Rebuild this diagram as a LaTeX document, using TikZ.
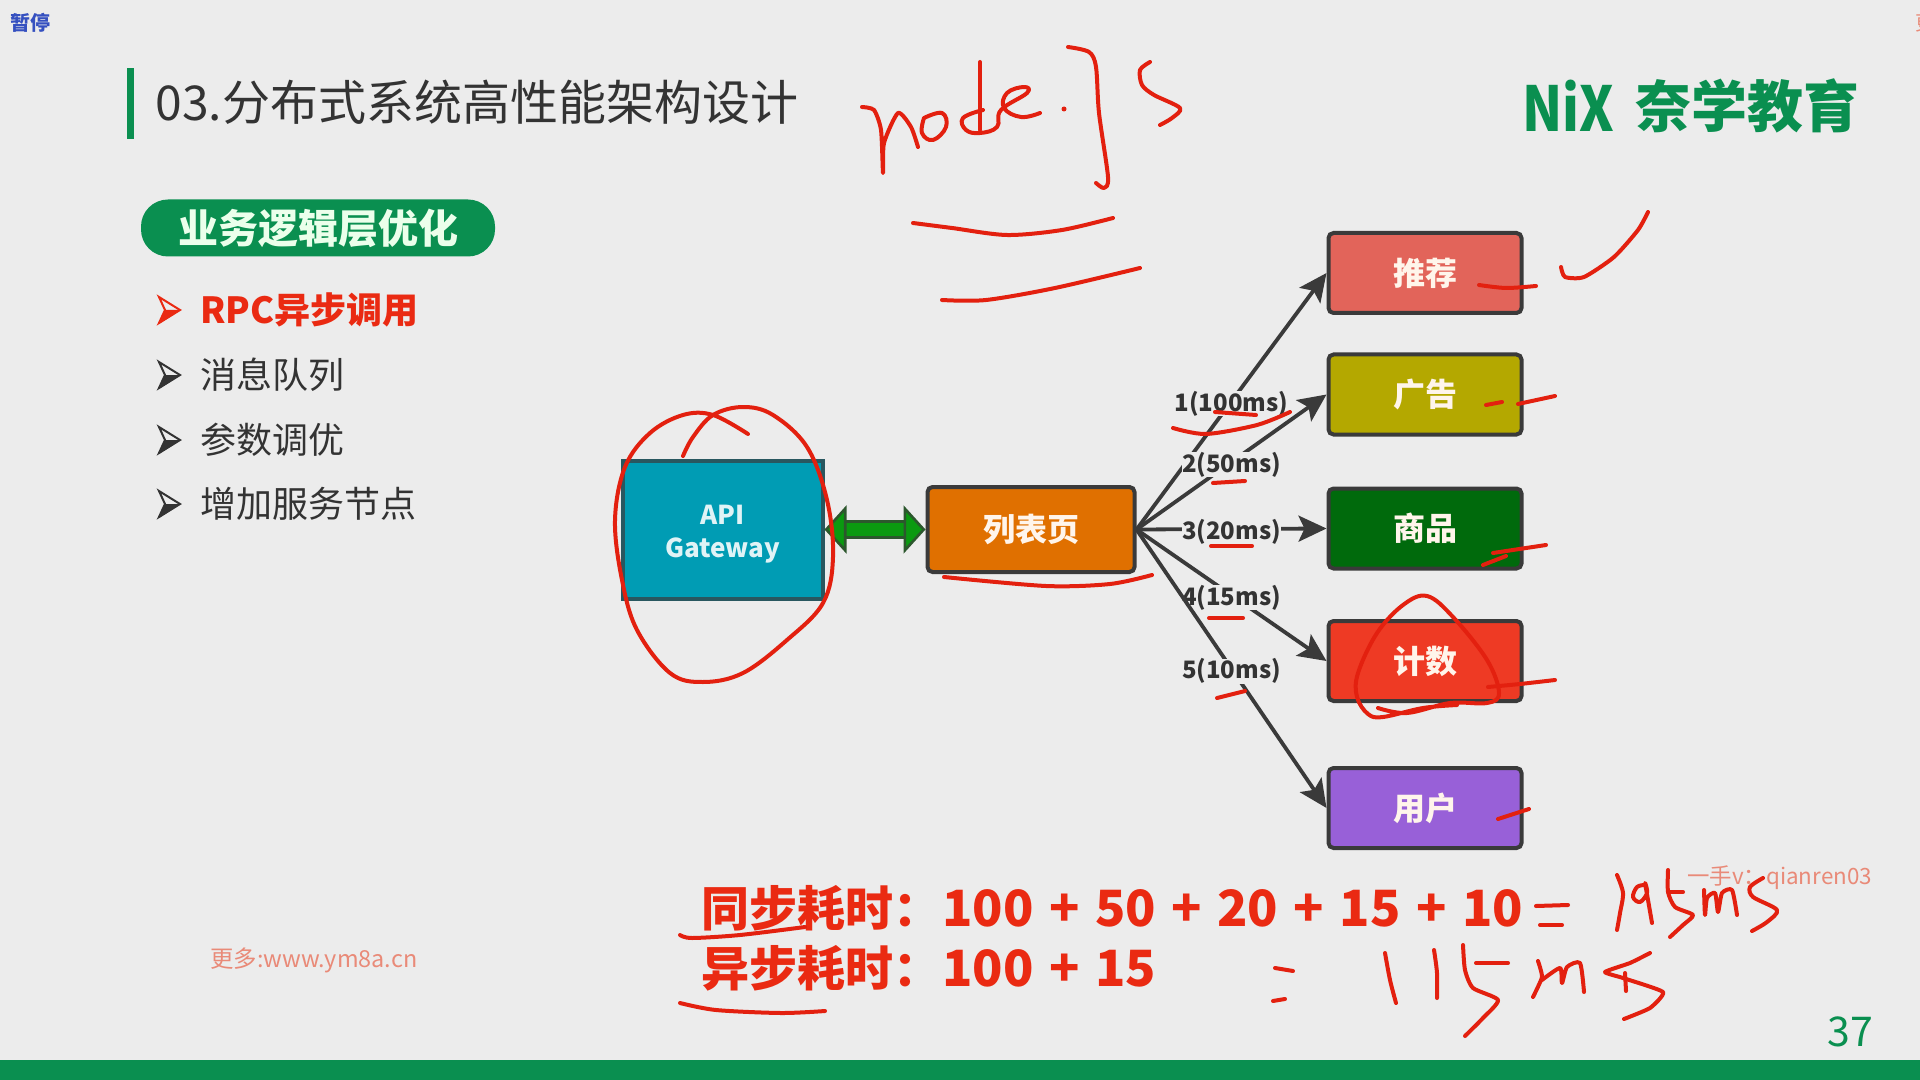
\documentclass[tikz,border=0pt]{standalone}
\usepackage{graphicx}
\usepackage{fontspec}
\usepackage{xcolor}
\setmainfont{Noto Sans CJK SC}
\usetikzlibrary{arrows.meta,calc,positioning}
\definecolor{paper}{HTML}{ECECEC}
\definecolor{ink}{HTML}{333333}
\definecolor{brand}{HTML}{0A8F50}
\definecolor{redpen}{HTML}{E3200F}
\definecolor{alert}{HTML}{EA2A12}
\definecolor{mark}{HTML}{E98A78}
\definecolor{edge}{HTML}{3A3A3A}
\definecolor{linkgreen}{HTML}{0A9A10}
\definecolor{pausefill}{HTML}{3550C0}
\definecolor{apifill}{HTML}{009CB4}
\definecolor{listfill}{HTML}{E07000}
\definecolor{recfill}{HTML}{E2645A}
\definecolor{adfill}{HTML}{B4A800}
\definecolor{goodsfill}{HTML}{006A0C}
\definecolor{countfill}{HTML}{EE3A24}
\definecolor{userfill}{HTML}{9860D8}
\newcommand{\fsz}[1]{\fontsize{#1}{#1}\selectfont}
\newcommand{\plusgap}{\hspace{.31em}+\hspace{.31em}}
\tikzset{
 svcbox/.style={draw=edge,line width=2pt,rounded corners=2.5pt,text=white!92!orange,font=\fsz{16}\bfseries,minimum width=96.5pt,minimum height=40pt},
 conn/.style={draw=edge,line width=1.9pt,-{Stealth[length=14pt,width=13pt,inset=3pt]}},
 midlabel/.style={fill=paper,text=ink,font=\fsz{12}\bfseries,inner sep=0pt,midway,yshift=-1.2pt},
 redink/.style={draw=redpen,line width=2pt,line cap=round,line join=round},
 bullet/.style={anchor=west,inner sep=0pt,font=\fsz{18}},
 sumtext/.style={anchor=west,inner sep=0pt,text=alert,font=\fsz{25}\bfseries}
}
\begin{document}
\begin{tikzpicture}[x=0.5pt,y=-0.5pt]
\useasboundingbox (0,0) rectangle (1920,1080);
\fill[paper] (0,0) rectangle (1920,1080);
\fill[brand] (0,1060) rectangle (1920,1080);
% slide head
\fill[brand] (127,68) rectangle (134,139);
\node[anchor=west,inner sep=0pt,text=ink,font=\fsz{24}] (title) at (155,102) {03.分布式系统高性能架构设计};
\node[anchor=west,inner sep=0pt,text=brand,font=\fsz{31}\bfseries] (logomark) at (1522,106) {\scalebox{.85}[1]{NiX}};
\node[anchor=west,inner sep=0pt,text=brand,font=\fsz{28}\bfseries] (logotext) at (1635,106) {奈学教育};
\node[anchor=west,inner sep=0pt,text=pausefill,font=\fsz{10}\bfseries] (pause) at (10,23) {暂停};
\node[anchor=west,inner sep=0pt,text=mark,font=\fsz{10}] (cutoff) at (1915,23) {更};
\node[fill=brand,rounded corners=13.5pt,text=white!92!green,font=\fsz{20}\bfseries,minimum width=177pt,minimum height=28.5pt,inner sep=0pt] (pill) at (318,228) {业务逻辑层优化};
% left list: arrowhead marks
\foreach \yy/\colr in {310/alert,375/ink,440/ink,504/ink} {
 \draw[\colr,line width=1pt,line join=miter] (159,\yy-13) -- (180,\yy) -- (159,\yy+13) -- (165,\yy) -- cycle;
 \fill[\colr] (159,\yy+14) -- (181,\yy) -- (165,\yy) -- cycle;
}
\node[bullet,text=alert] (itema) at (200,310) {\bfseries RPC异步调用};
\node[bullet,text=ink] (itemb) at (200,375) {消息队列};
\node[bullet,text=ink] (itemc) at (200,440) {参数调优};
\node[bullet,text=ink] (itemd) at (200,504) {增加服务节点};
% diagram
\node[draw=edge!70!apifill,line width=2pt,fill=apifill,text=white!88!apifill,align=center,font=\fontsize{13}{16.5}\selectfont\bfseries,minimum width=100pt,minimum height=69pt] (api) at (722.5,529.5) {\rule{0pt}{14pt}API\\Gateway};
\node[svcbox,fill=listfill,minimum width=103.5pt,minimum height=42.5pt] (listpage) at (1031,529.5) {列表页};
\draw[draw=edge!70!linkgreen,double=linkgreen,double distance=6.5pt,line width=1.3pt,{Triangle[length=11pt,width=24pt,fill=linkgreen]}-{Triangle[length=11pt,width=24pt,fill=linkgreen]}] (api.east) -- (listpage.west);
% rows: box on the right, edge from the list page, label half way
\foreach \yy/\name/\colr/\txt/\lbl in {
 273/recbox/recfill/推荐/1(100ms),
 394.5/adbox/adfill/广告/2(50ms),
 528.5/goodsbox/goodsfill/商品/3(20ms),
 661/countbox/countfill/计数/4(15ms),
 808/userbox/userfill/用户/5(10ms)} {
 \node[svcbox,fill=\colr] (\name) at (1425,\yy) {\txt};
 \draw[conn] (listpage.east) -- node[midlabel] {\lbl} (\name.west);
}
% totals
\node[anchor=west,inner sep=0pt,text=alert,font=\fsz{24}\bfseries] (synclabel) at (701,908) {同步耗时：};
\node[sumtext] (syncsum) at (942,908) {100\plusgap 50\plusgap 20\plusgap 15\plusgap 10};
\node[anchor=west,inner sep=0pt,text=alert,font=\fsz{24}\bfseries] (asynclabel) at (701,968) {异步耗时：};
\node[sumtext] (asyncsum) at (942,968) {100\plusgap 15};
\node[anchor=west,inner sep=0pt,text=mark,font=\fsz{11.2}] (wechat) at (1687,878) {一手v：qianren03};
\node[anchor=west,inner sep=0pt,text=mark,font=\fsz{11.7}] (site) at (210,960) {更多:www.ym8a.cn};
\node[inner sep=0pt,text=brand,font=\fsz{20.5}] (pageno) at (1850,1032) {37};
% handwriting: node.js and its two strokes
\draw[redink] plot[smooth,tension=.4] coordinates {(862,107) (874,110) (881,130) (883,173) (884,143) (898,113) (911,127) (918,147)};
\draw[redink] plot[smooth,tension=.7] coordinates {(924,118) (942,113) (946,127) (933,140) (922,133) (924,118)};
\draw[redink] plot[smooth,tension=.4] coordinates {(980,62) (980,130)};
\draw[redink] plot[smooth,tension=.7] coordinates {(983,110) (963,118) (966,130) (980,133) (997,127) (1001,110) (1027,93) (1024,87) (1007,93) (1004,108) (1021,117) (1040,113)};
\fill[redpen] (1064,109) circle (2.5);
\draw[redink] plot[smooth,tension=.5] coordinates {(1068,47) (1089,52) (1096,67) (1099,113) (1108,177) (1104,188) (1096,183)};
\draw[redink] plot[smooth,tension=.5] coordinates {(1150,62) (1140,70) (1142,85) (1154,95) (1180,108) (1172,118) (1160,125)};
\draw[redink] plot[smooth] coordinates {(913,223) (952,228) (1007,235) (1062,230) (1113,218)};
\draw[redink] plot[smooth] coordinates {(942,300) (986,300) (1055,288) (1140,268)};
\draw[redink] plot[smooth,tension=.4] coordinates {(1561,267) (1565,277) (1584,277) (1614,257) (1638,230) (1648,212)};
% circle on the gateway, triangle on the counter box
\draw[redink] plot[smooth,tension=.6] coordinates {(748,434) (713,415) (683,415) (650,433) (625,467) (615,520) (622,580) (637,630) (670,673) (703,682) (743,673) (787,640) (823,603) (833,557) (827,500) (807,447) (773,415) (743,407) (713,415) (693,437) (683,456)};
\draw[redink] plot[smooth,tension=.6] coordinates {(1378,708) (1407,713) (1450,703) (1487,703) (1499,693) (1487,660) (1453,617) (1427,596) (1403,605) (1377,633) (1358,673) (1357,697) (1368,714) (1383,717) (1423,708) (1457,705)};
% ticks next to boxes and labels
\draw[redink] plot[smooth] coordinates {(1488,687) (1520,684) (1555,680)};
\draw[redink] plot[smooth] coordinates {(1479,285) (1506,288) (1536,286)};
\draw[redink] plot[smooth] coordinates {(1486,405) (1502,402)};
\draw[redink] plot[smooth] coordinates {(1518,404) (1555,396)};
\draw[redink] plot[smooth] coordinates {(1483,565) (1506,556)};
\draw[redink] plot[smooth] coordinates {(1493,553) (1546,545)};
\draw[redink] plot[smooth] coordinates {(1498,819) (1529,809)};
\draw[redink] plot[smooth] coordinates {(944,577) (1046,586) (1110,584) (1152,575)};
\draw[redink] plot[smooth] coordinates {(1215,412) (1256,415)};
\draw[redink] plot[smooth] coordinates {(1173,428) (1206,434) (1257,425) (1290,412)};
\draw[redink] plot[smooth] coordinates {(1213,483) (1245,481)};
\draw[redink] plot[smooth] coordinates {(1211,546) (1252,546)};
\draw[redink] plot[smooth] coordinates {(1209,618) (1243,618)};
\draw[redink] plot[smooth] coordinates {(1217,698) (1245,691)};
% handwriting under the totals
\draw[redink] plot[smooth] coordinates {(680,935) (692,938) (740,935) (805,927)};
\draw[redink] plot[smooth] coordinates {(680,1003) (716,1010) (781,1013) (825,1011)};
\draw[redink] plot[smooth] coordinates {(1536,906) (1568,905)};
\draw[redink] plot[smooth] coordinates {(1540,925) (1562,925)};
\draw[redink] plot[smooth] coordinates {(1617,875) (1623,893) (1620,913) (1617,930)};
\draw[redink] plot[smooth,tension=.6] coordinates {(1645,885) (1637,887) (1633,897) (1640,902) (1647,893) (1645,883) (1648,900) (1652,923)};
\draw[redink] plot[smooth,tension=.4] coordinates {(1668,870) (1668,892) (1675,907) (1693,915) (1683,925) (1670,937)};
\draw[redink] plot[smooth] coordinates {(1668,892) (1683,892)};
\draw[redink] plot[smooth,tension=.4] coordinates {(1704,890) (1705,915) (1707,898) (1715,893) (1718,912) (1722,893) (1732,890) (1737,915)};
\draw[redink] plot[smooth,tension=.5] coordinates {(1763,878) (1750,887) (1753,897) (1777,910) (1767,922) (1752,931)};
\draw[redink] plot[smooth] coordinates {(1275,968) (1293,971)};
\draw[redink] plot[smooth] coordinates {(1273,1001) (1285,999)};
\draw[redink] plot[smooth] coordinates {(1385,953) (1390,980) (1396,1003)};
\draw[redink] plot[smooth] coordinates {(1434,950) (1437,973) (1437,998)};
\draw[redink] plot[smooth,tension=.4] coordinates {(1463,945) (1465,970) (1473,988) (1498,1000) (1483,1018) (1465,1036)};
\draw[redink] plot[smooth] coordinates {(1476,963) (1508,963)};
\draw[redink] plot[smooth,tension=.3] coordinates {(1538,961) (1542,977) (1533,997)};
\draw[redink] plot[smooth,tension=.4] coordinates {(1542,980) (1560,968) (1562,983) (1567,967) (1580,963) (1584,992)};
\draw[redink] plot[smooth,tension=.3] coordinates {(1650,953) (1630,963) (1605,972) (1623,978) (1663,992) (1650,1008) (1624,1019)};
\draw[redink] plot[smooth] coordinates {(1625,973) (1626,991)};
\end{tikzpicture}
\end{document}
